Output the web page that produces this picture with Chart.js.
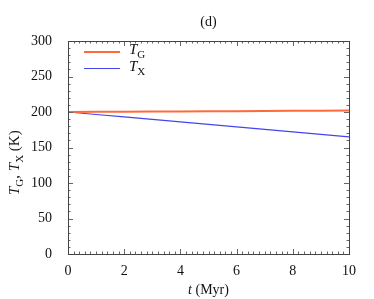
<!DOCTYPE html>
<html>
<head>
<meta charset="utf-8">
<script src="https://cdn.jsdelivr.net/npm/chart.js@4"></script>
<style>
  html, body { margin: 0; padding: 0; background: #fff; }
  #wrap { width: 374px; height: 299px; }
</style>
</head>
<body>
<div id="wrap"><canvas id="c" width="374" height="299"></canvas></div>
<script>
// time (Myr) and temperatures (K)
const tMyr = [0, 1, 2, 3, 4, 5, 6, 7, 8, 9, 10];
const tempG = [200, 200.2, 200.4, 200.6, 200.8, 201, 201.2, 201.4, 201.6, 201.8, 202];
const tempX = [200, 196.5, 193, 189.5, 186, 182.5, 179, 175.5, 172, 168.5, 165];
const xTicks = [0, 2, 4, 6, 8, 10];
const yTicks = [0, 50, 100, 150, 200, 250, 300];
const seriesNames = [["T", "G"], ["T", "X"]];
const panelLabel = "(d)";

const SERIF = "'Liberation Serif', 'DejaVu Serif', serif";
const colG = "#ff6a3a";
const colX = "#4444f0";

// inward ticks on all four sides, major + minor
const innerTicks = {
  id: "innerTicks",
  afterDraw(chart) {
    const ctx = chart.ctx, a = chart.chartArea;
    const xs = chart.scales.x, ys = chart.scales.y;
    ctx.save();
    ctx.strokeStyle = "#666";
    ctx.lineWidth = 1;
    ctx.beginPath();
    for (let v = 0; v <= 10.001; v += 0.2) {
      const px = Math.round(xs.getPixelForValue(v)) + 0.5;
      const major = Math.abs(v / 2 - Math.round(v / 2)) < 1e-6;
      const len = major ? 5 : 2.5;
      ctx.moveTo(px, a.bottom); ctx.lineTo(px, a.bottom - len);
      ctx.moveTo(px, a.top); ctx.lineTo(px, a.top + len);
    }
    for (let v = 0; v <= 300; v += 10) {
      const py = Math.round(ys.getPixelForValue(v)) + 0.5;
      const len = v % 50 === 0 ? 5 : 2.5;
      ctx.moveTo(a.left, py); ctx.lineTo(a.left + len, py);
      ctx.moveTo(a.right, py); ctx.lineTo(a.right - len, py);
    }
    ctx.stroke();
    ctx.strokeStyle = "#444";
    ctx.strokeRect(Math.round(a.left) + 0.5, Math.round(a.top) + 0.5,
      Math.round(a.right - a.left), Math.round(a.bottom - a.top));
    ctx.restore();
  }
};

// draws an italic main letter followed by a subscript, returns new x
function subText(ctx, x, y, main, sub, size) {
  ctx.font = "italic " + size + "px " + SERIF;
  ctx.fillText(main, x, y);
  x += ctx.measureText(main).width;
  ctx.font = Math.round(size * 0.72) + "px " + SERIF;
  ctx.fillText(sub, x, y + size * 0.28);
  return x + ctx.measureText(sub).width;
}

const labels = {
  id: "labels",
  afterDraw(chart) {
    const ctx = chart.ctx, a = chart.chartArea;
    ctx.save();
    ctx.fillStyle = "#111";
    ctx.textBaseline = "alphabetic";

    // panel label
    ctx.font = "14px " + SERIF;
    ctx.textAlign = "center";
    ctx.fillText(panelLabel, (a.left + a.right) / 2, 26);

    // x title
    ctx.textAlign = "left";
    const t1 = "t", t2 = " (Myr)";
    ctx.font = "italic 14px " + SERIF;
    const w1 = ctx.measureText(t1).width;
    ctx.font = "14px " + SERIF;
    const w2 = ctx.measureText(t2).width;
    const x0 = (a.left + a.right) / 2 - (w1 + w2) / 2;
    ctx.font = "italic 14px " + SERIF;
    ctx.fillText(t1, x0, 294);
    ctx.font = "14px " + SERIF;
    ctx.fillText(t2, x0 + w1, 294);

    // y title, rotated
    ctx.save();
    ctx.translate(19, 155);
    ctx.rotate(-Math.PI / 2);
    let x = -40;
    x = subText(ctx, x, 0, "T", "G", 15);
    ctx.font = "15px " + SERIF;
    ctx.fillText(", ", x, 0);
    x += ctx.measureText(", ").width;
    x = subText(ctx, x, 0, "T", "X", 15);
    ctx.font = "15px " + SERIF;
    ctx.fillText(" (K)", x, 0);
    ctx.restore();

    // legend
    const cols = [colG, colX];
    const widths = [2, 1.2];
    seriesNames.forEach((n, i) => {
      const ly = 52 + i * 16.5;
      ctx.strokeStyle = cols[i];
      ctx.lineWidth = widths[i];
      ctx.beginPath();
      ctx.moveTo(84, ly); ctx.lineTo(120, ly);
      ctx.stroke();
      ctx.fillStyle = "#111";
      subText(ctx, 129, ly + 2, n[0], n[1], 15);
    });
    ctx.restore();
  }
};

new Chart(document.getElementById("c"), {
  type: "line",
  data: {
    labels: tMyr,
    datasets: [
      { label: "TG", data: tMyr.map((t, i) => ({ x: t, y: tempG[i] })),
        borderColor: colG, borderWidth: 2, pointRadius: 0, tension: 0 },
      { label: "TX", data: tMyr.map((t, i) => ({ x: t, y: tempX[i] })),
        borderColor: colX, borderWidth: 1.2, pointRadius: 0, tension: 0 }
    ]
  },
  options: {
    responsive: false,
    animation: false,
    layout: { padding: { top: 41, right: 25, left: 0, bottom: 0 } },
    plugins: { legend: { display: false }, tooltip: { enabled: false } },
    scales: {
      x: {
        type: "linear", min: 0, max: 10,
        afterFit(s) { s.height = 45; },
        afterBuildTicks(s) { s.ticks = xTicks.map(v => ({ value: v })); },
        grid: { display: false },
        border: { display: false },
        ticks: { color: "#111", font: { family: SERIF, size: 14 }, padding: 1, maxRotation: 0 }
      },
      y: {
        min: 0, max: 300,
        afterFit(s) { s.width = 68; },
        afterBuildTicks(s) { s.ticks = yTicks.map(v => ({ value: v })); },
        grid: { display: false },
        border: { display: false },
        ticks: { color: "#111", font: { family: SERIF, size: 14 }, padding: 8 }
      }
    }
  },
  plugins: [innerTicks, labels]
});
</script>
</body>
</html>
